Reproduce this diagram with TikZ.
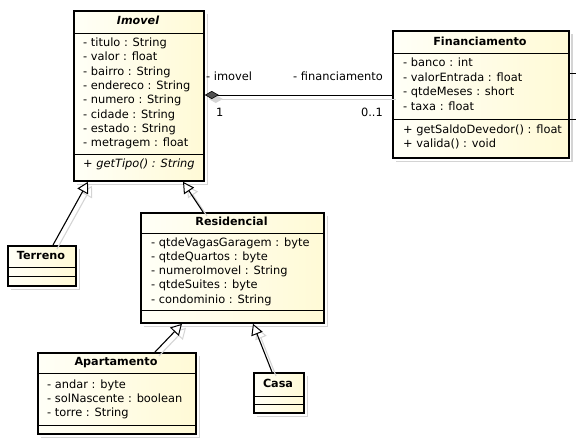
\documentclass[tikz,border=0pt]{standalone}
\usepackage{fontspec}
\setmainfont{DejaVu Sans}
\usetikzlibrary{arrows.meta}
\definecolor{boxl}{RGB}{255,255,247}
\definecolor{boxr}{RGB}{255,250,214}
\definecolor{shad}{RGB}{212,212,212}
\definecolor{diam}{RGB}{80,80,80}
\tikzset{
  umlbox/.style={draw, line width=1.8pt, inner sep=0pt, anchor=north west, left color=boxl, right color=boxr},
  sepline/.style={line width=1pt},
  shadowline/.style={draw=shad, line width=1.8pt},
  attr/.style={anchor=west, inner sep=0pt, text height=8.5pt, text depth=2.5pt, font=\fontsize{11.4}{14}\selectfont},
  ttl/.style={inner sep=0pt, text height=8.5pt, text depth=2.5pt, font=\fontsize{11.2}{14}\selectfont\bfseries},
  gen/.style={line width=1.1pt, -{Triangle[length=11pt,width=12pt,fill=white,line width=1pt]}},
  genshadow/.style={draw=shad, line width=1.1pt, -{Triangle[length=11pt,width=12pt,fill=none,line width=1pt,color=shad]}},
}
\begin{document}
\begin{tikzpicture}[x=1pt,y=-1pt]
\useasboundingbox (0,0) rectangle (576,440);
% shadows of boxes
\draw[shadowline] (207.5,14) -- (207.5,184.5) -- (77,184.5);
\draw[shadowline] (572,34) -- (572,161.5) -- (396,161.5);
\draw[shadowline] (327.5,216) -- (327.5,326.5) -- (144,326.5);
\draw[shadowline] (79.5,249) -- (79.5,289.5) -- (11,289.5);
\draw[shadowline] (199.5,356) -- (199.5,437.5) -- (41,437.5);
\draw[shadowline] (307.5,376) -- (307.5,416.5) -- (257,416.5);

% boxes
\node[umlbox, minimum width=130pt, minimum height=170pt] (imovel) at (73,10) {};
\node[umlbox, minimum width=176pt, minimum height=127pt] (financ) at (392,30) {};
\node[umlbox, minimum width=183pt, minimum height=110pt] (resid) at (140,212) {};
\node[umlbox, minimum width=68pt, minimum height=40pt] (terreno) at (7,245) {};
\node[umlbox, minimum width=158pt, minimum height=81pt] (apto) at (37,352) {};
\node[umlbox, minimum width=50pt, minimum height=40pt] (casa) at (253,372) {};

% compartments
\draw[sepline] ([yshift=-23pt]imovel.north west) -- ([yshift=-23pt]imovel.north east);
\draw[sepline] ([yshift=-144pt]imovel.north west) -- ([yshift=-144pt]imovel.north east);
\draw[sepline] ([yshift=-23pt]financ.north west) -- ([yshift=-23pt]financ.north east);
\draw[sepline] ([yshift=-89pt]financ.north west) -- ([yshift=-89pt]financ.north east);
\draw[sepline] ([yshift=-21pt]resid.north west) -- ([yshift=-21pt]resid.north east);
\draw[sepline] ([yshift=-98pt]resid.north west) -- ([yshift=-98pt]resid.north east);
\draw[sepline] ([yshift=-22pt]terreno.north west) -- ([yshift=-22pt]terreno.north east);
\draw[sepline] ([yshift=-31pt]terreno.north west) -- ([yshift=-31pt]terreno.north east);
\draw[sepline] ([yshift=-21pt]apto.north west) -- ([yshift=-21pt]apto.north east);
\draw[sepline] ([yshift=-73pt]apto.north west) -- ([yshift=-73pt]apto.north east);
\draw[sepline] ([yshift=-24pt]casa.north west) -- ([yshift=-24pt]casa.north east);
\draw[sepline] ([yshift=-32pt]casa.north west) -- ([yshift=-32pt]casa.north east);

% titles
\node[ttl, font=\fontsize{11.2}{14}\selectfont\bfseries\itshape] (imovelT) at (138,21.5) {Imovel};
\node[ttl] (financT) at (480,42) {Financiamento};
\node[ttl] (residT) at (231.5,222) {Residencial};
\node[ttl] (terrenoT) at (41,256) {Terreno};
\node[ttl] (aptoT) at (116,362.5) {Apartamento};
\node[ttl] (casaT) at (278,384) {Casa};

% Imovel attributes
\node[attr] (im1) at (83,43.5) {- titulo : String};
\node[attr] (im2) at (83,57.8) {- valor : float};
\node[attr] (im3) at (83,72.1) {- bairro : String};
\node[attr] (im4) at (83,86.4) {- endereco : String};
\node[attr] (im5) at (83,100.7) {- numero : String};
\node[attr] (im6) at (83,115) {- cidade : String};
\node[attr] (im7) at (83,129.3) {- estado : String};
\node[attr] (im8) at (83,143.6) {- metragem : float};
\node[attr, font=\fontsize{11.4}{14}\selectfont\itshape] (im9) at (83,164.5) {+ getTipo() : String};

% Financiamento
\node[attr] (fi1) at (403,63.5) {- banco : int};
\node[attr] (fi2) at (403,78) {- valorEntrada : float};
\node[attr] (fi3) at (403,92.5) {- qtdeMeses : short};
\node[attr] (fi4) at (403,107) {- taxa : float};
\node[attr] (fi5) at (403,130) {+ getSaldoDevedor() : float};
\node[attr] (fi6) at (403,144.5) {+ valida() : void};

% Residencial
\node[attr] (re1) at (151,243) {- qtdeVagasGaragem : byte};
\node[attr] (re2) at (151,257.3) {- qtdeQuartos : byte};
\node[attr] (re3) at (151,271.6) {- numeroImovel : String};
\node[attr] (re4) at (151,285.9) {- qtdeSuites : byte};
\node[attr] (re5) at (151,300.2) {- condominio : String};

% Apartamento
\node[attr] (ap1) at (47,385.5) {- andar : byte};
\node[attr] (ap2) at (47,399.5) {- solNascente : boolean};
\node[attr] (ap3) at (47,413.5) {- torre : String};

% connector shadows
\begin{scope}[transform canvas={xshift=4pt,yshift=-4pt}]
\draw[genshadow] ([xshift=46pt]terreno.north west) -- ([xshift=15pt]imovel.south west);
\draw[genshadow] ([xshift=63pt]resid.north west) -- ([xshift=110pt]imovel.south west);
\draw[genshadow] ([xshift=118pt]apto.north west) -- ([xshift=42pt]resid.south west);
\draw[genshadow] ([xshift=19pt]casa.north west) -- ([xshift=113pt]resid.south west);
\draw[draw=shad, line width=1pt, {Diamond[length=14pt,width=8pt,fill=shad,color=shad]}-] ([yshift=-85pt]imovel.north east) -- ([yshift=-65pt]financ.north west);
\end{scope}

% generalizations
\draw[gen] ([xshift=46pt]terreno.north west) -- ([xshift=15pt]imovel.south west);
\draw[gen] ([xshift=63pt]resid.north west) -- ([xshift=110pt]imovel.south west);
\draw[gen] ([xshift=118pt]apto.north west) -- ([xshift=42pt]resid.south west);
\draw[gen] ([xshift=19pt]casa.north west) -- ([xshift=113pt]resid.south west);

% composition
\draw[line width=1pt, {Diamond[length=14pt,width=8pt,fill=diam,color=black,line width=0.6pt]}-] ([yshift=-85pt]imovel.north east) -- ([yshift=-65pt]financ.north west);
\node[attr] (lbImovel) at (206,77) {- imovel};
\node[attr] (lb1) at (216,113) {1};
\node[attr, anchor=east] (lbFin) at (383,77) {- financiamento};
\node[attr, anchor=east] (lb01) at (383,113) {0..1};

% cut-off connector ends at right edge
\coordinate (t1) at (576,73);
\coordinate (t2) at (576,119);
\draw[line width=1pt] ([yshift=-43pt]financ.north east) -- (t1);
\draw[line width=1pt] ([yshift=-89pt]financ.north east) -- (t2);
\end{tikzpicture}
\end{document}
